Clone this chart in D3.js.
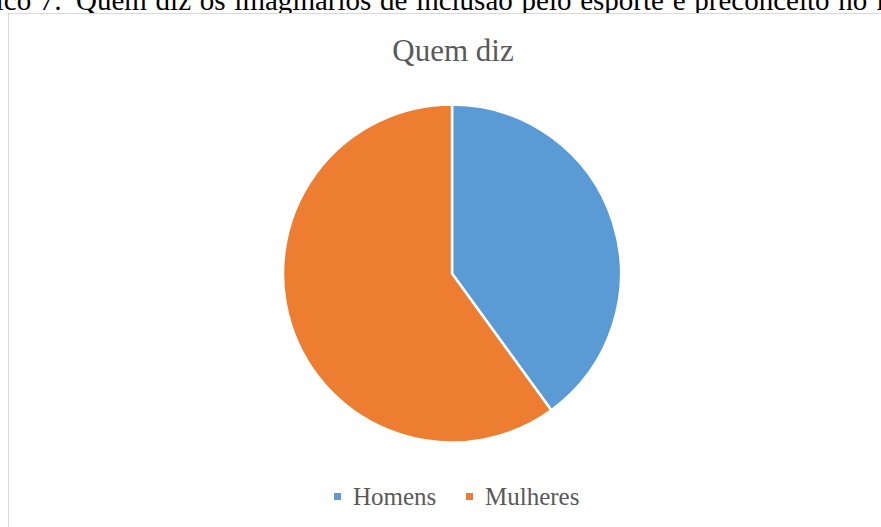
<!DOCTYPE html>
<html>
<head>
<meta charset="utf-8">
<script src="https://cdn.jsdelivr.net/npm/d3@7"></script>
<style>
  html, body { margin: 0; padding: 0; background: #ffffff; }
  svg { display: block; }
</style>
</head>
<body>
<svg id="chart" width="881" height="527"></svg>
<script>
// Respondent groups and their shares
const categories = ["Homens", "Mulheres"];
const values = [40, 60];
const colors = ["#5B9BD5", "#ED7D31"];
const chartTitle = "Quem diz";
const captionPrefix = "Gráfico 7:";
const captionRest = "Quem diz os imaginários de inclusão pelo esporte e preconceito no futebol";

const svg = d3.select("#chart");
const W = 881, H = 527;
const serif = "'Liberation Serif', 'Times New Roman', serif";

// Figure caption above the chart frame (justified line)
const captionSize = 29, captionY = 10, captionX = 76, wordGap = 1.5;
svg.append("text")
  .attr("x", captionX - 14)
  .attr("y", captionY)
  .attr("text-anchor", "end")
  .attr("font-family", serif)
  .attr("font-size", captionSize)
  .attr("word-spacing", 1)
  .attr("fill", "#000000")
  .text(captionPrefix);
svg.append("text")
  .attr("x", captionX)
  .attr("y", captionY)
  .attr("font-family", serif)
  .attr("font-size", captionSize)
  .attr("word-spacing", wordGap)
  .attr("fill", "#000000")
  .text(captionRest);

// Chart frame (drawn over the caption's descenders)
svg.append("rect")
  .attr("x", 8.5).attr("y", 13.5)
  .attr("width", W + 20).attr("height", H + 20)
  .attr("fill", "#ffffff")
  .attr("stroke", "#d9d9d9")
  .attr("stroke-width", 1);

// Chart title
svg.append("text")
  .attr("x", 453).attr("y", 61)
  .attr("text-anchor", "middle")
  .attr("font-family", serif)
  .attr("font-size", 31)
  .attr("fill", "#595959")
  .text(chartTitle);

// Pie
const cx = 452, cy = 273.5, r = 169;
const color = d3.scaleOrdinal().domain(categories).range(colors);
const pie = d3.pie().sort(null).value(d => d.value);
const arc = d3.arc().innerRadius(0).outerRadius(r);
const data = categories.map((c, i) => ({ name: c, value: values[i] }));

svg.append("g")
  .attr("transform", `translate(${cx},${cy})`)
  .selectAll("path")
  .data(pie(data))
  .join("path")
  .attr("d", arc)
  .attr("fill", d => color(d.data.name))
  .attr("stroke", "#ffffff")
  .attr("stroke-width", 2.5)
  .attr("stroke-linejoin", "round");

// Legend
const legendY = 505;
const legendItems = [
  { name: categories[0], x: 334 },
  { name: categories[1], x: 466 }
];
const lg = svg.append("g");
legendItems.forEach(it => {
  lg.append("rect")
    .attr("x", it.x).attr("y", legendY - 12)
    .attr("width", 7).attr("height", 7)
    .attr("fill", color(it.name));
  lg.append("text")
    .attr("x", it.x + 19).attr("y", legendY)
    .attr("font-family", serif)
    .attr("font-size", 25)
    .attr("fill", "#595959")
    .text(it.name);
});
</script>
</body>
</html>
